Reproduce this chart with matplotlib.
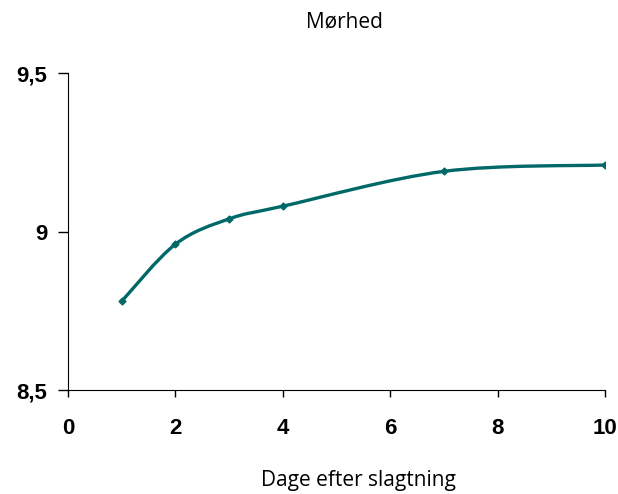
import numpy
from matplotlib import pyplot
from matplotlib.path import Path
from matplotlib.patches import PathPatch
from matplotlib.ticker import FuncFormatter

days = [1, 2, 3, 4, 7, 10]
tenderness = [8.78, 8.96, 9.04, 9.08, 9.19, 9.21]

title = 'Mørhed'
x_label = 'Dage efter slagtning'
x_ticks = [0, 2, 4, 6, 8, 10]
y_ticks = [8.5, 9.0, 9.5]

line_color = '#006868'


def smooth_path(x, y, tension=1 / 6):
    # bezier control points like a catmull-rom spline (Excel smoothed line)
    x = numpy.asarray(x, dtype=float)
    y = numpy.asarray(y, dtype=float)
    pts = numpy.column_stack([x, y])
    verts = [pts[0]]
    codes = [Path.MOVETO]
    n = len(pts)
    for i in range(n - 1):
        p0 = pts[i - 1] if i > 0 else pts[i]
        p1 = pts[i]
        p2 = pts[i + 1]
        p3 = pts[i + 2] if i + 2 < n else pts[i + 1]
        c1 = p1 + (p2 - p0) * tension
        c2 = p2 - (p3 - p1) * tension
        verts += [c1, c2, p2]
        codes += [Path.CURVE4, Path.CURVE4, Path.CURVE4]
    return Path(verts, codes)


figure = pyplot.figure(figsize=(6.18, 4.94), dpi=100)
ax = figure.add_axes([0.110, 0.2105, 0.869, 0.6415])

ax.add_patch(PathPatch(smooth_path(days, tenderness), facecolor='none',
                       edgecolor=line_color, linewidth=2.4, capstyle='round'))
ax.plot(days, tenderness, linestyle='none', marker='D', markersize=3.5,
        color=line_color)

ax.set_xlim(0, 10)
ax.set_ylim(8.5, 9.5)
ax.set_xticks(x_ticks)
ax.set_yticks(y_ticks)
ax.yaxis.set_major_formatter(FuncFormatter(lambda v, p: f'{v:g}'.replace('.', ',')))

for label in ax.get_xticklabels() + ax.get_yticklabels():
    label.set_fontfamily('Liberation Sans')
    label.set_fontweight('bold')
    label.set_fontsize(16)

ax.tick_params(axis='y', direction='out', length=7, width=1, pad=8)
ax.tick_params(axis='x', direction='out', length=5, width=1, pad=15)

ax.spines['top'].set_visible(False)
ax.spines['right'].set_visible(False)

figure.text(0.558, 0.955, title, ha='center', va='center',
            fontfamily='Open Sans', fontsize=15)
figure.text(0.58, 0.028, x_label, ha='center', va='center',
            fontfamily='Open Sans', fontsize=15)

figure.savefig('out.png', dpi=100)
